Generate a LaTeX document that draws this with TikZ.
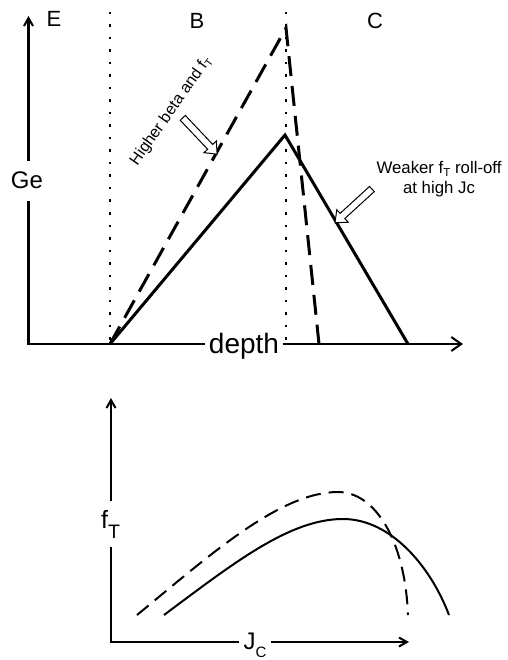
\documentclass[tikz,border=0pt]{standalone}
\usepackage{fontspec}
\setmainfont{Liberation Sans}
\usetikzlibrary{arrows.meta,shapes.arrows}
\begin{document}
\begin{tikzpicture}[x=1pt,y=-1pt,
  lbl/.style={inner sep=0pt, anchor=base},
  axis/.style={line width=2.4pt},
  tri/.style={line width=3pt},
  guide/.style={line width=2.2pt, dash pattern=on 2.5pt off 10pt},
  hollow/.style={single arrow, draw, line width=1pt, fill=white, inner sep=3pt,
    single arrow head extend=5pt, single arrow tip angle=80, minimum height=50pt},
  curve/.style={line width=2pt},
  barbL/.style={-{Straight Barb[length=10pt,width=14pt,line width=2pt]}},
  barbS/.style={-{Straight Barb[length=8pt,width=9pt,line width=2pt]}},
]
\useasboundingbox (0,0) rectangle (507,660);

% ---------- top plot ----------
\coordinate (O1) at (28.5,344);
\coordinate (Ytop1) at (28.5,16);
\coordinate (Xend1) at (463,344);
\node[lbl, font=\fontsize{24}{24}\selectfont, minimum height=40pt] (Ge) at (27,189) {Ge};
\node[lbl, font=\fontsize{28}{28}\selectfont, minimum width=78pt] (depth) at (244,353) {depth};

\node[lbl, font=\fontsize{22}{22}\selectfont] (E) at (54,27) {E};
\node[lbl, font=\fontsize{22}{22}\selectfont] (B) at (197,29) {B};
\node[lbl, font=\fontsize{22}{22}\selectfont] (C) at (375,29) {C};

% dotted region boundaries
\coordinate (gLt) at (110,12);
\coordinate (gLb) at (110,344);
\coordinate (gRt) at (286,12);
\coordinate (gRb) at (286,344);
\draw[guide] (gLt) -- (gLb);
\draw[guide] (gRt) -- (gRb);

% axes
\draw[axis] (Ge.south -| O1) -- (O1) -- (O1 -| depth.west);
\draw[axis, barbS] (Ge.north -| O1) -- (Ytop1);
\draw[axis, barbL] (O1 -| depth.east) -- (Xend1);

% profiles
\coordinate (A) at (110,344);
\coordinate (Ps) at (285,135);
\coordinate (Es) at (408,344);
\coordinate (Pd) at (286,28);
\coordinate (Ed) at (319,344);
\draw[tri, line join=miter] (A) -- (Ps) -- (Es);
\draw[tri, line join=miter, dash pattern=on 20pt off 10pt] (A) -- (Pd) -- (Ed);

% annotations
\node[hollow, rotate=-46.6] (arrB) at (198.5,134.5) {};
\node[hollow, rotate=-137.5] (arrC) at (355,204.5) {};
\node[font=\fontsize{16}{16}\selectfont, rotate=55] (hb) at (171,111)
  {Higher beta and f\raisebox{-3pt}{\fontsize{10.5}{10.5}\selectfont T}};
\node[font=\fontsize{16.8}{20}\selectfont, align=center] (wk) at (439,179)
  {Weaker f\raisebox{-3.5pt}{\fontsize{11.5}{11.5}\selectfont T} roll-off\\at high Jc};

% ---------- bottom plot ----------
\coordinate (O2) at (111,642);
\coordinate (Ytop2) at (111,398);
\coordinate (Xend2) at (409,642);
\node[lbl, font=\fontsize{25}{25}\selectfont, minimum height=46pt] (fT) at (110.5,528)
  {f\raisebox{-10pt}{\fontsize{19.5}{19.5}\selectfont T}};
\node[lbl, font=\fontsize{24}{24}\selectfont, minimum width=32pt] (JC) at (255,649)
  {J\raisebox{-8.5pt}{\fontsize{15}{15}\selectfont C}};

\draw[axis] (fT.south -| O2) -- (O2) -- (O2 -| JC.west);
\draw[axis, barbS] (fT.north -| O2) -- (Ytop2);
\draw[axis, barbS] (O2 -| JC.east) -- (Xend2);

\draw[curve] (164,615) .. controls (235,562) and (290,519) .. (343,519)
  .. controls (390,519) and (430,565) .. (449,615);
\draw[curve, dash pattern=on 15pt off 8pt] (137,615) .. controls (210,555) and (280,492) .. (338,492)
  .. controls (375,492) and (405,540) .. (408,615);
\end{tikzpicture}
\end{document}
